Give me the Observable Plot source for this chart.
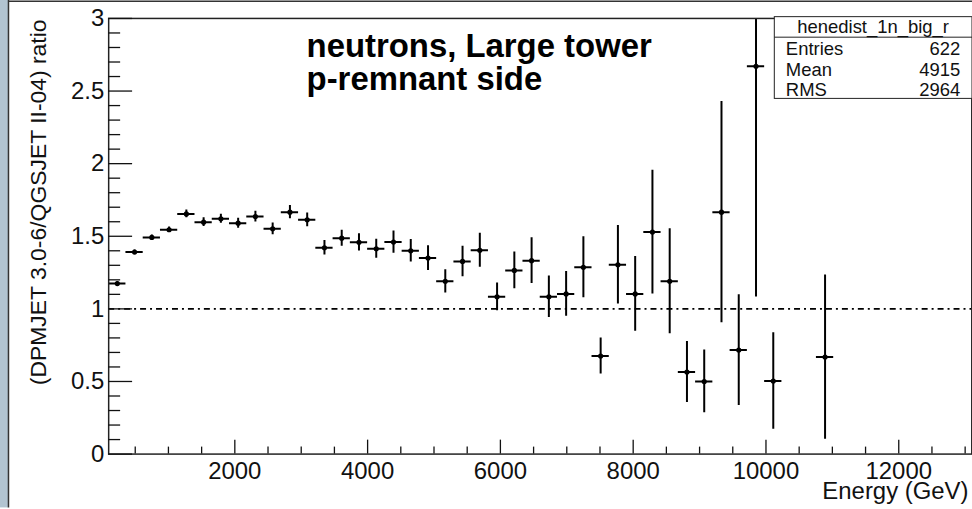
<!DOCTYPE html>
<html><head><meta charset="utf-8">
<script src="https://cdn.jsdelivr.net/npm/d3@7"></script>
<script src="https://cdn.jsdelivr.net/npm/@observablehq/plot@0.6"></script>
<style>html,body{margin:0;padding:0;background:#fff;overflow:hidden;width:972px;height:509px}</style>
</head><body><div id="chart"></div>
<script>
// bin centres (GeV), bins 260 GeV wide
const energy = [230, 490, 750, 1010, 1270, 1530, 1790, 2050, 2310, 2570,
  2830, 3090, 3350, 3610, 3870, 4130, 4390, 4650, 4910, 5170,
  5430, 5690, 5950, 6210, 6470, 6730, 6990, 7250, 7510, 7770,
  8030, 8290, 8550, 8810, 9070, 9330, 9590, 9850, 10110, 10890];
const ratio = [1.174, 1.391, 1.492, 1.545, 1.654, 1.597, 1.620, 1.590, 1.636, 1.551,
  1.666, 1.613, 1.421, 1.487, 1.458, 1.414, 1.460, 1.400, 1.350, 1.190,
  1.327, 1.403, 1.083, 1.265, 1.332, 1.083, 1.103, 1.286, 0.675, 1.304,
  1.103, 1.529, 1.190, 0.565, 0.500, 1.666, 0.716, 2.670, 0.503, 0.668];
const ratioErr = [0.012, 0.014, 0.016, 0.019, 0.027, 0.030, 0.031, 0.034, 0.037, 0.040,
  0.046, 0.048, 0.050, 0.055, 0.060, 0.065, 0.077, 0.078, 0.085, 0.080,
  0.105, 0.117, 0.096, 0.127, 0.158, 0.143, 0.154, 0.210, 0.124, 0.270,
  0.257, 0.426, 0.362, 0.210, 0.216, 0.762, 0.382, 1.588, 0.332, 0.565];
const binHalfWidth = 130;

const xMajorTicks = [2000, 4000, 6000, 8000, 10000, 12000];
const xMinorTicks = [500, 1000, 1500, 2500, 3000, 3500, 4500, 5000, 5500, 6500, 7000, 7500,
  8500, 9000, 9500, 10500, 11000, 11500, 12500, 13000];
const yMajorTicks = [0, 0.5, 1, 1.5, 2, 2.5, 3];
const yMajorLabels = ["0", "0.5", "1", "1.5", "2", "2.5", "3"];
const yMinorTicks = [0.1, 0.2, 0.3, 0.4, 0.6, 0.7, 0.8, 0.9, 1.1, 1.2, 1.3, 1.4, 1.6, 1.7, 1.8, 1.9,
  2.1, 2.2, 2.3, 2.4, 2.6, 2.7, 2.8, 2.9];

const xTitle = "Energy (GeV)";
const yTitle = "(DPMJET 3.0-6/QGSJET II-04) ratio";
const plotTitle = "neutrons, Large tower\np-remnant side";
const statsName = "henedist_1n_big_r";
const statsLabels = ["Entries", "Mean", "RMS"];
const statsValues = ["622", "4915", "2964"];

const FONT = "'Liberation Sans', Arial, Helvetica, sans-serif";
const INK = "#111";

const data = energy.map((e, i) => ({energy: e, ratio: ratio[i], err: ratioErr[i]}));

const svg = Plot.plot({
  width: 975, height: 509,
  marginLeft: 108.5, marginRight: 0.7, marginTop: 18, marginBottom: 54,
  style: {fontFamily: FONT, background: "white", color: INK, overflow: "visible"},
  x: {domain: [100, 13100], label: null},
  y: {domain: [0, 3], label: null},
  marks: [
    Plot.ruleY([1], {stroke: "#000", strokeWidth: 1.8, strokeDasharray: "6,4,2,4"}),
    Plot.ruleX(data, {x: "energy", y1: d => d.ratio - d.err, y2: d => d.ratio + d.err,
      stroke: "#000", strokeWidth: 2, clip: true}),
    Plot.ruleY(data, {y: "ratio", x1: d => d.energy - binHalfWidth, x2: d => d.energy + binHalfWidth,
      stroke: "#000", strokeWidth: 2, clip: true}),
    Plot.dot(data, {x: "energy", y: "ratio", r: 2.6, fill: "#000", stroke: null, clip: true}),
    Plot.frame({stroke: "#222", strokeWidth: 1.5}),
    Plot.axisY({ticks: yMajorTicks, tickSize: -24, tickFormat: () => "", label: null, strokeWidth: 1.3}),
    Plot.axisY({ticks: yMinorTicks, tickSize: -12, tickFormat: () => "", label: null, strokeWidth: 1.3}),
    Plot.axisY({ticks: yMajorTicks, tickSize: 0, tickPadding: 4.5, fontSize: 24,
      tickFormat: d => yMajorLabels[yMajorTicks.indexOf(d)], label: null}),
    Plot.axisX({ticks: xMajorTicks, tickSize: -14, tickFormat: () => "", label: null, strokeWidth: 1.3}),
    Plot.axisX({ticks: xMinorTicks, tickSize: -7, tickFormat: () => "", label: null, strokeWidth: 1.3}),
    Plot.axisX({ticks: xMajorTicks, tickSize: 0, tickPadding: 8, fontSize: 24,
      tickFormat: d3.format("d"), label: null}),
    Plot.text([xTitle], {frameAnchor: "bottom-right", textAnchor: "end", lineAnchor: "bottom",
      dx: -3.3, dy: 45.5, fontSize: 24, fill: INK}),
    Plot.text([yTitle], {frameAnchor: "top-left", textAnchor: "end", lineAnchor: "bottom",
      rotate: -90, dx: -62.5, dy: 1, fontSize: 23, fill: INK}),
    Plot.text([plotTitle], {frameAnchor: "top-left", textAnchor: "start", lineAnchor: "top",
      dx: 198.5, dy: 15.3, fontSize: 33, fontWeight: "bold", lineHeight: 1, fill: "#000"})
  ]
});
document.getElementById("chart").appendChild(svg);

// canvas edge decoration
const root = d3.select(svg);
root.insert("rect", ":first-child").attr("x", 0).attr("y", 0).attr("width", 8).attr("height", 509).attr("fill", "#b2c4d1");
root.append("line").attr("x1", 8.5).attr("x2", 8.5).attr("y1", 0).attr("y2", 509).attr("stroke", "#333").attr("stroke-width", 1.5);
root.append("line").attr("x1", 8).attr("x2", 975).attr("y1", 1.3).attr("y2", 1.3).attr("stroke", "#333").attr("stroke-width", 1.5);

// statistics box
const sb = root.append("g").attr("font-family", FONT).attr("fill", INK);
const bx0 = 776.7, bx1 = 975, by0 = 16.7, by1 = 98.7;
sb.append("rect").attr("x", bx0).attr("y", by0).attr("width", bx1 - bx0).attr("height", by1 - by0)
  .attr("fill", "white").attr("stroke", "#222").attr("stroke-width", 1);
sb.append("line").attr("x1", bx0).attr("x2", bx1).attr("y1", 37.3).attr("y2", 37.3).attr("stroke", "#222").attr("stroke-width", 1);
sb.append("text").attr("x", (bx0 + bx1) / 2).attr("y", 33.3).attr("text-anchor", "middle").attr("font-size", 18.5).text(statsName);
const rowY = [55, 75.8, 96.3];
statsLabels.forEach((l, i) => {
  sb.append("text").attr("x", 788.3).attr("y", rowY[i]).attr("text-anchor", "start").attr("font-size", 18.5).text(l);
  sb.append("text").attr("x", 963.3).attr("y", rowY[i]).attr("text-anchor", "end").attr("font-size", 18.5).text(statsValues[i]);
});
</script>
</body></html>
